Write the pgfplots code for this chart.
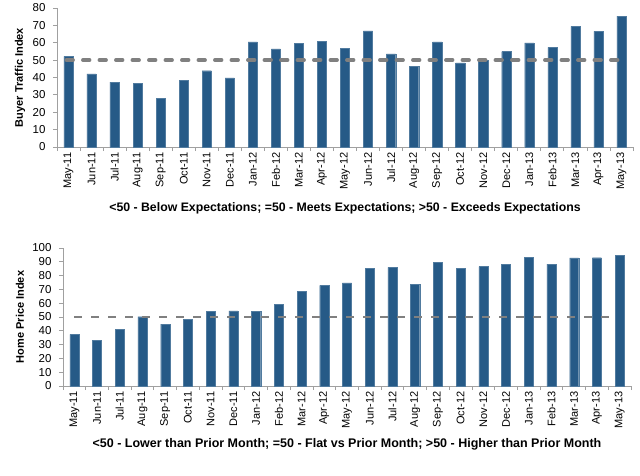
\documentclass[border=0pt]{standalone}
\usepackage{pgfplots}
\pgfplotsset{compat=1.18}
\usepackage{fontspec}
\setmainfont{Liberation Sans}

\definecolor{barblue}{RGB}{38,90,135}
\definecolor{dashgray}{RGB}{128,128,128}
\definecolor{axgray}{RGB}{160,160,160}

\pgfplotsset{
  monthchart/.style={
    scale only axis,
    xmin=-0.5, xmax=24.5, ymin=0,
    axis x line*=bottom, axis y line*=left,
    axis line style={axgray, line width=0.8pt, -},
    xtick={0,...,24},
    xticklabels={May-11,Jun-11,Jul-11,Aug-11,Sep-11,Oct-11,Nov-11,Dec-11,
      Jan-12,Feb-12,Mar-12,Apr-12,May-12,Jun-12,Jul-12,Aug-12,Sep-12,Oct-12,
      Nov-12,Dec-12,Jan-13,Feb-13,Mar-13,Apr-13,May-13},
    minor xtick={-0.5,0.5,...,24.5},
    major x tick style={draw=none},
    major tick length=4pt, minor tick length=4pt,
    tick align=outside,
    tick style={axgray, line width=0.8pt},
    xticklabel style={rotate=90, anchor=east, inner sep=1.5pt,
      font=\fontsize{11}{11}\selectfont},
    yticklabel style={font=\fontsize{11.5}{12}\selectfont, xshift=-4pt},
    /pgf/number format/assume math mode=true,
    ylabel style={font=\bfseries\fontsize{11}{12}\selectfont,
      at={(axis description cs:0,0.5)}, anchor=center},
    xlabel style={at={(axis description cs:0.5,0)}, anchor=center},
  }
}

\pgfplotstableread{
idx buyer price
0  52.2 37.5
1  42.1 32.9
2  37.3 40.9
3  36.7 50.2
4  28.1 44.9
5  38.3 48.1
6  43.9 53.9
7  39.8 54.4
8  60.5 54.1
9  56.5 59.4
10 59.7 68.6
11 60.9 72.9
12 56.7 74.7
13 66.8 85.1
14 53.6 86.0
15 46.5 73.9
16 60.5 89.4
17 48.4 85.5
18 49.8 86.5
19 54.9 88.4
20 59.9 93.3
21 57.4 88.4
22 69.5 92.8
23 66.6 93.0
24 75.4 94.5
}\monthdata

\begin{document}
\begin{tikzpicture}
\path[use as bounding box] (0pt,0pt) rectangle (640pt,-475pt);

\begin{axis}[monthchart,
  at={(57pt,-147pt)}, anchor=south west,
  width=576pt, height=139pt,
  ymax=80, ytick={0,10,...,80},
  ylabel={Buyer Traffic Index},
  ylabel style={yshift=37pt},
  xlabel={<50 - Below Expectations; =50 - Meets Expectations; >50 - Exceeds Expectations},
  xlabel style={yshift=-61pt, font=\bfseries\fontsize{12.3}{13}\selectfont},
]
\addplot[ybar, bar width=0.4, fill=barblue, draw=barblue!80!white, line width=0.3pt]
  table[x=idx, y=buyer] {\monthdata};
\addplot[dashgray, line width=3.3pt, line cap=round, dash pattern=on 7pt off 9.5pt]
  coordinates {(-0.1,50) (24,50)};
\end{axis}

\begin{axis}[monthchart,
  at={(63pt,-386pt)}, anchor=south west,
  width=568pt, height=138pt,
  ymax=100, ytick={0,10,...,100},
  ylabel={Home Price Index},
  ylabel style={yshift=43pt},
  xlabel={<50 - Lower than Prior Month; =50 - Flat vs Prior Month; >50 - Higher than Prior Month},
  xlabel style={yshift=-58pt, font=\bfseries\fontsize{12.5}{13}\selectfont},
]
\addplot[ybar, bar width=0.4, fill=barblue, draw=barblue!80!white, line width=0.3pt]
  table[x=idx, y=price] {\monthdata};
\addplot[dashgray, line width=2.6pt, dash pattern=on 8pt off 9pt]
  coordinates {(0,50) (23.6,50)};
\end{axis}
\end{tikzpicture}
\end{document}
